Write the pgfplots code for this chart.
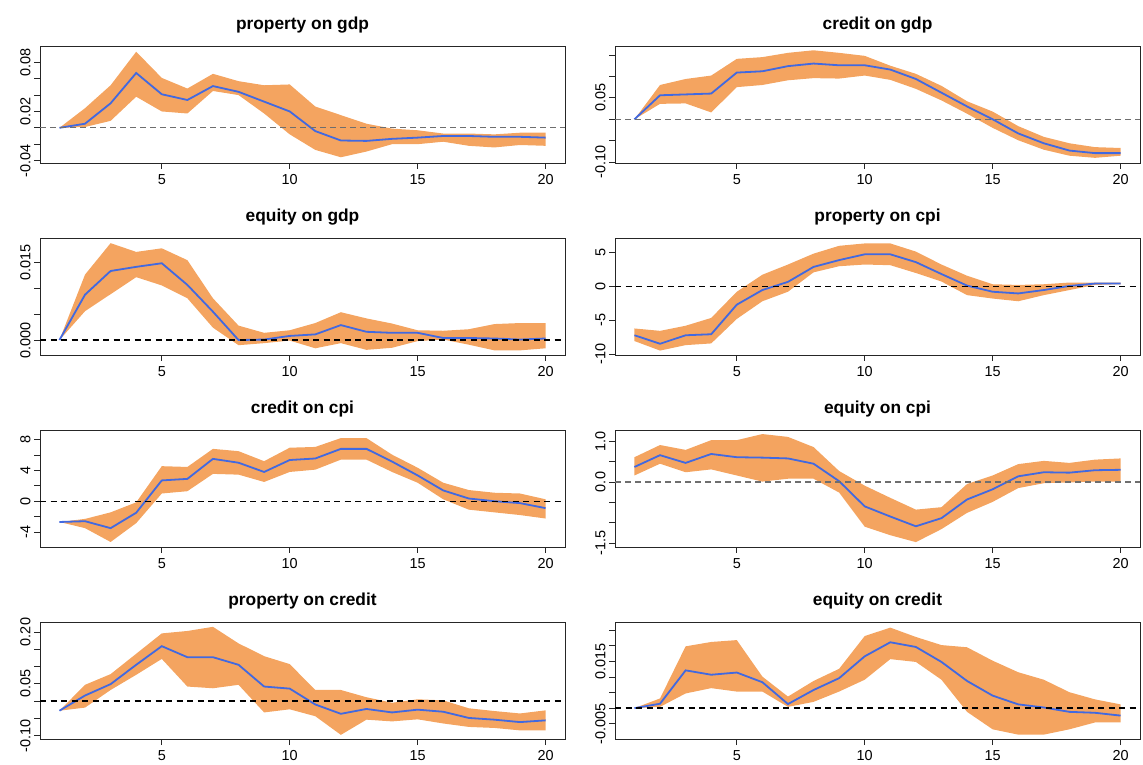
\documentclass[border=0pt]{standalone}
\usepackage{fontspec}
\setmainfont{Liberation Sans}
\usepackage{pgfplots}
\pgfplotsset{compat=1.18}
\usepackage{pgfplotstable}
\usepgfplotslibrary{fillbetween}
\definecolor{band}{RGB}{244,164,96}
\definecolor{irf}{RGB}{65,105,225}
\definecolor{zgray}{RGB}{110,110,110}

\pgfplotstableread{
x lo mid hi
1 0 0 0
2 0.001 0.005 0.024
3 0.0085 0.030 0.052
4 0.038 0.067 0.093
5 0.020 0.041 0.061
6 0.0175 0.034 0.048
7 0.045 0.051 0.066
8 0.040 0.044 0.057
9 0.0175 0.032 0.052
10 -0.008 0.020 0.053
11 -0.027 -0.004 0.026
12 -0.036 -0.0155 0.0155
13 -0.029 -0.016 0.005
14 -0.020 -0.0135 -0.001
15 -0.020 -0.012 -0.003
16 -0.017 -0.010 -0.007
17 -0.022 -0.010 -0.007
18 -0.024 -0.011 -0.008
19 -0.021 -0.011 -0.006
20 -0.022 -0.012 -0.006
}\tpg

\pgfplotstableread{
x lo mid hi
1 0 0 0
2 0.036 0.056 0.080
3 0.037 0.058 0.094
4 0.016 0.060 0.102
5 0.075 0.109 0.141
6 0.080 0.112 0.145
7 0.091 0.124 0.155
8 0.096 0.130 0.161
9 0.095 0.126 0.155
10 0.102 0.126 0.148
11 0.092 0.116 0.125
12 0.071 0.094 0.106
13 0.044 0.062 0.078
14 0.013 0.030 0.042
15 -0.020 0 0.018
16 -0.049 -0.033 -0.016
17 -0.071 -0.056 -0.041
18 -0.085 -0.073 -0.056
19 -0.090 -0.079 -0.065
20 -0.085 -0.079 -0.067
}\tcg

\pgfplotstableread{
x lo mid hi
1 0 0 0
2 0.0056 0.0088 0.0127
3 0.0089 0.0134 0.0188
4 0.0122 0.0142 0.0171
5 0.0106 0.0149 0.0178
6 0.0081 0.0107 0.0155
7 0.0024 0.0055 0.0081
8 -0.0010 0 0.0028
9 -0.0006 0.0001 0.0014
10 -0.0001 0.0008 0.0019
11 -0.0016 0.0011 0.0033
12 -0.0006 0.0029 0.0054
13 -0.0019 0.0016 0.0042
14 -0.0015 0.0014 0.0032
15 -0.0002 0.0014 0.0019
16 0.0001 0.0004 0.0018
17 -0.0009 0.0004 0.0021
18 -0.0020 0.0003 0.0031
19 -0.0020 0.0001 0.0033
20 -0.0016 0.0003 0.0033
}\teg

\pgfplotstableread{
x lo mid hi
1 -8.05 -7.2 -6.2
2 -9.45 -8.45 -6.55
3 -8.65 -7.2 -5.8
4 -8.4 -7.05 -4.65
5 -4.8 -2.7 -0.8
6 -2.2 -0.55 1.7
7 -0.8 0.65 3.2
8 2.05 2.85 4.8
9 2.95 3.85 5.95
10 3.2 4.7 6.3
11 3.1 4.7 6.3
12 1.95 3.55 5.1
13 0.7 1.8 3.2
14 -1.3 0.1 1.55
15 -1.8 -0.8 0.3
16 -2.2 -1.05 0.2
17 -1.3 -0.55 0.3
18 -0.55 0.05 0.55
19 0.2 0.4 0.55
20 0.3 0.4 0.55
}\tpc

\pgfplotstableread{
x lo mid hi
1 -2.7 -2.7 -2.7
2 -3.5 -2.6 -2.3
3 -5.3 -3.5 -1.45
4 -2.85 -1.5 -0.15
5 1.0 2.7 4.55
6 1.3 2.9 4.45
7 3.55 5.5 6.8
8 3.45 5.0 6.5
9 2.5 3.8 5.2
10 3.8 5.35 6.95
11 4.1 5.55 7.05
12 5.4 6.8 8.2
13 5.4 6.8 8.2
14 3.8 5.15 6.05
15 2.4 3.35 4.35
16 0.25 1.4 2.4
17 -1.1 0.35 1.45
18 -1.45 0 1.1
19 -1.8 -0.25 1.0
20 -2.25 -0.9 0.25
}\tcc

\pgfplotstableread{
x lo mid hi
1 0.16 0.37 0.61
2 0.45 0.66 0.91
3 0.24 0.47 0.79
4 0.31 0.69 1.03
5 0.16 0.61 1.03
6 0.01 0.60 1.18
7 0.08 0.58 1.11
8 0.08 0.45 0.86
9 -0.26 0.02 0.27
10 -1.10 -0.60 -0.09
11 -1.31 -0.85 -0.39
12 -1.48 -1.09 -0.68
13 -1.16 -0.89 -0.62
14 -0.76 -0.43 -0.05
15 -0.49 -0.18 0.16
16 -0.15 0.14 0.44
17 -0.03 0.24 0.52
18 -0.01 0.23 0.47
19 0.01 0.29 0.55
20 0.01 0.30 0.58
}\tec

\pgfplotstableread{
x lo mid hi
1 -0.028 -0.028 -0.028
2 -0.019 0.016 0.047
3 0.032 0.049 0.078
4 0.076 0.105 0.137
5 0.122 0.159 0.196
6 0.042 0.127 0.203
7 0.037 0.127 0.215
8 0.047 0.105 0.167
9 -0.033 0.042 0.130
10 -0.024 0.036 0.107
11 -0.044 -0.010 0.032
12 -0.098 -0.037 0.032
13 -0.054 -0.023 0.011
14 -0.059 -0.033 -0.005
15 -0.053 -0.025 0.005
16 -0.065 -0.031 0.002
17 -0.075 -0.049 -0.021
18 -0.078 -0.054 -0.029
19 -0.085 -0.061 -0.036
20 -0.085 -0.056 -0.027
}\tpcr

\pgfplotstableread{
x lo mid hi
1 0 0 0
2 0.0004 0.0014 0.0031
3 0.0047 0.0121 0.0198
4 0.0064 0.0107 0.0212
5 0.0053 0.0114 0.0218
6 0.0053 0.0083 0.0101
7 0.0004 0.0013 0.0037
8 0.0020 0.0058 0.0087
9 0.0053 0.0096 0.0126
10 0.0091 0.0166 0.0231
11 0.0157 0.0211 0.0258
12 0.0148 0.0196 0.0228
13 0.0091 0.0148 0.0202
14 -0.0012 0.0087 0.0195
15 -0.0068 0.0040 0.0152
16 -0.0085 0.0012 0.0115
17 -0.0085 0.0002 0.0091
18 -0.0068 -0.0012 0.0051
19 -0.0046 -0.0015 0.0028
20 -0.0046 -0.0024 0.0012
}\tecr

\pgfplotsset{
  panel/.style={
    width=525bp, height=117bp, scale only axis, anchor=south west,
    xmin=0.24, xmax=20.76, xtick={5,10,15,20},
    scaled y ticks=false, scaled x ticks=false,
    tick align=outside, tick pos=left, major tick length=6bp,
    axis line style={line width=0.8bp, black!85},
    every tick/.style={line width=0.8bp, black!85},
    ticklabel style={font=\fontsize{14.5}{16}\selectfont},
    /pgf/number format/assume math mode=true,
    xticklabel style={yshift=-2bp},
    yticklabel style={rotate=90, anchor=south},
    title style={font=\bfseries\fontsize{17.4}{20}\selectfont, anchor=base, at={(0.5,1)}, yshift=11bp},
  },
}
\newcommand{\drawpanel}[2]{%
  \addplot[draw=none, name path=up, forget plot] table[x=x, y=hi] {#1};
  \addplot[draw=none, name path=dn, forget plot] table[x=x, y=lo] {#1};
  \addplot[band, draw=none] fill between[of=up and dn];
  \addplot[irf, line width=1.8bp] table[x=x, y=mid] {#1};
  \addplot[#2] coordinates {(0.24,0) (20.76,0)};
}
\tikzset{gdash/.style={zgray, line width=1.1bp, dash pattern=on 6bp off 4bp},
         bdash/.style={black, line width=1.4bp, dash pattern=on 6bp off 4.5bp}}

\begin{document}
\begin{tikzpicture}

% row 1
\begin{axis}[panel, at={(40bp,601bp)}, title={property on gdp},
  ymin=-0.043, ymax=0.100, ytick={-0.04,-0.02,0,0.02,0.04,0.06,0.08},
  yticklabels={-0.04,,,0.02,,,0.08}]
\drawpanel{\tpg}{gdash}
\end{axis}
\begin{axis}[panel, at={(615bp,601bp)}, title={credit on gdp},
  ymin=-0.102, ymax=0.171, ytick={-0.10,-0.05,0,0.05,0.10,0.15},
  yticklabels={-0.10,,,0.05,,}]
\drawpanel{\tcg}{gdash}
\end{axis}

% row 2
\begin{axis}[panel, at={(40bp,409bp)}, title={equity on gdp},
  ymin=-0.0029, ymax=0.0198, ytick={0,0.005,0.010,0.015},
  yticklabels={0.000,,,0.015}]
\drawpanel{\teg}{bdash}
\end{axis}
\begin{axis}[panel, at={(615bp,409bp)}, title={property on cpi},
  ymin=-10.1, ymax=7.1, ytick={-10,-5,0,5},
  yticklabels={-10,-5,0,5}]
\drawpanel{\tpc}{bdash}
\end{axis}

% row 3
\begin{axis}[panel, at={(40bp,217bp)}, title={credit on cpi},
  ymin=-5.95, ymax=9.25, ytick={-4,-2,0,2,4,6,8},
  yticklabels={-4,,0,,4,,8}]
\drawpanel{\tcc}{bdash}
\end{axis}
\begin{axis}[panel, at={(615bp,217bp)}, title={equity on cpi},
  ymin=-1.6, ymax=1.28, ytick={-1.5,-1,-0.5,0,0.5,1},
  yticklabels={-1.5,,,0.0,,1.0}]
\drawpanel{\tec}{gdash}
\end{axis}

% row 4
\begin{axis}[panel, at={(40bp,25bp)}, title={property on credit},
  ymin=-0.11, ymax=0.229, ytick={-0.10,-0.05,0,0.05,0.10,0.15,0.20},
  yticklabels={-0.10,,,0.05,,,0.20}]
\drawpanel{\tpcr}{bdash}
\end{axis}
\begin{axis}[panel, at={(615bp,25bp)}, title={equity on credit},
  ymin=-0.0099, ymax=0.0276, ytick={-0.005,0,0.005,0.010,0.015,0.020,0.025},
  yticklabels={-0.005,,,,0.015,,}]
\drawpanel{\tecr}{bdash}
\end{axis}
\path (0,0) rectangle (1143bp,764bp);
\end{tikzpicture}
\end{document}
